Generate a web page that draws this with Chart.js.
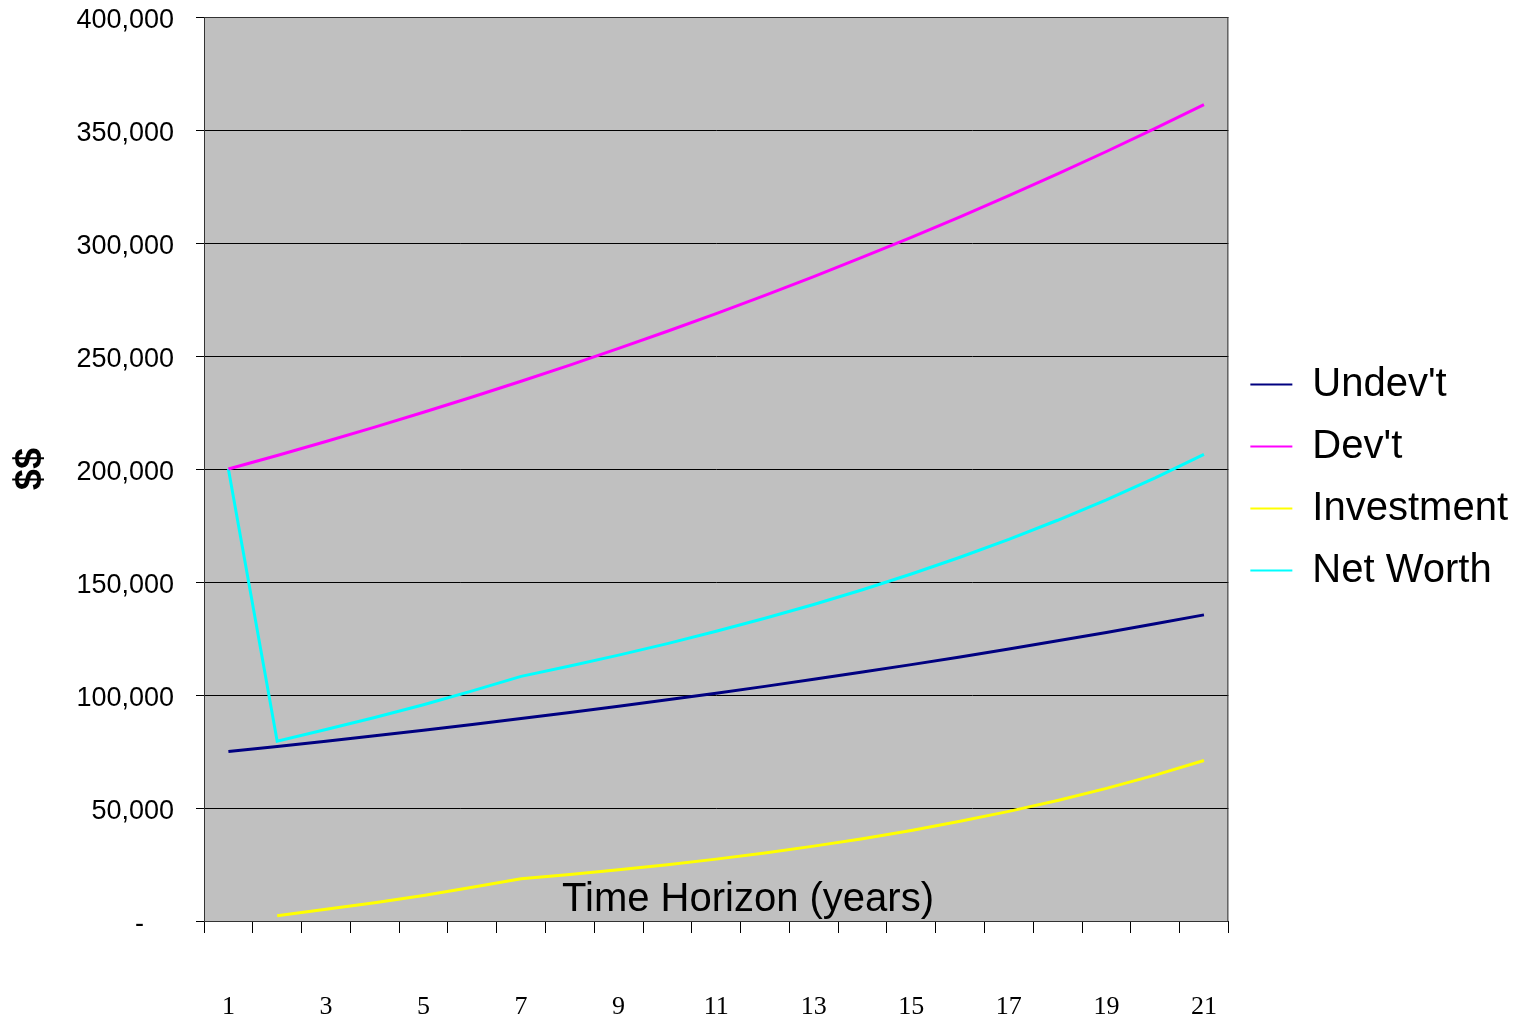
<!DOCTYPE html>
<html>
<head>
<meta charset="utf-8">
<script src="https://cdn.jsdelivr.net/npm/chart.js@4.4.1/dist/chart.umd.min.js"></script>
<style>
  html, body { margin: 0; padding: 0; background: #fff; }
  #wrap { width: 1528px; height: 1022px; }
</style>
</head>
<body>
<div id="wrap"><canvas id="chart" width="1528" height="1022"></canvas></div>
<script>
const years = ["1","2","3","4","5","6","7","8","9","10","11","12","13","14","15","16","17","18","19","20","21"];

const undevt = [75000, 77250, 79568, 81955, 84413, 86946, 89554, 92241, 95008, 97858, 100794,
  103818, 106932, 110140, 113444, 116848, 120353, 123964, 127683, 131513, 135458];

const devt = [200000, 206000, 212180, 218545, 225102, 231855, 238810, 245975, 253354, 260955, 268783,
  276847, 285152, 293707, 302518, 311593, 320941, 330570, 340487, 350701, 361222];

const investment = [null, 2300, 5200, 8100, 11300, 14900, 18700, 20570, 22627, 24890, 27379,
  30117, 33128, 36441, 40085, 44094, 48503, 53353, 58689, 64558, 71013];

const netWorth = [200000, 79550, 84768, 90055, 95713, 101846, 108254, 112811, 117635, 122748, 128173,
  133935, 140060, 146581, 153529, 160942, 168856, 177317, 186372, 196071, 206471];

const xTitle = "Time Horizon (years)";
const yTitle = "$$";

// grey plot area with a dark frame, like the old spreadsheet chart
const plotBg = {
  id: "plotBg",
  beforeDraw(chart) {
    const { ctx, chartArea: a } = chart;
    ctx.save();
    ctx.fillStyle = "#c0c0c0";
    ctx.fillRect(a.left, a.top, a.right - a.left, a.bottom - a.top);
    ctx.restore();
  },
  afterDatasetsDraw(chart) {
    const { ctx, chartArea: a } = chart;
    ctx.save();
    ctx.strokeStyle = "#333";
    ctx.lineWidth = 1;
    ctx.strokeRect(a.left + 0.5, a.top + 0.5, a.right - a.left - 1, a.bottom - a.top);
    // axis title sits inside the plot, near the bottom
    ctx.fillStyle = "#000";
    ctx.font = "40px 'Liberation Sans', Arial, sans-serif";
    ctx.textAlign = "center";
    ctx.textBaseline = "middle";
    ctx.fillText(xTitle, a.left + 544, a.bottom - 21);
    ctx.restore();
  }
};

function line(label, data, color) {
  return {
    label: label,
    data: data,
    borderColor: color,
    backgroundColor: color,
    borderWidth: 3,
    pointRadius: 0,
    tension: 0,
    fill: false,
    spanGaps: false
  };
}

const ctx = document.getElementById("chart").getContext("2d");
const chart = new Chart(ctx, {
  type: "line",
  data: {
    labels: years,
    datasets: [
      line("Undev't", undevt, "#000080"),
      line("Dev't", devt, "#ff00ff"),
      line("Investment", investment, "#ffff00"),
      line("Net Worth", netWorth, "#00ffff")
    ]
  },
  plugins: [plotBg],
  options: {
    responsive: false,
    animation: false,
    layout: { padding: { top: 17, right: 10, left: 0, bottom: 0 } },
    plugins: {
      tooltip: { enabled: false },
      legend: {
        position: "right",
        fullSize: false,
        title: { display: true, text: " ", font: { size: 10 }, padding: { top: 2, bottom: 3 } },
        labels: {
          color: "#000",
          font: { size: 40, family: "'Liberation Sans', Arial, sans-serif" },
          boxWidth: 42,
          boxHeight: 2,
          padding: 22,
          generateLabels(chart) {
            return Chart.defaults.plugins.legend.labels.generateLabels(chart).map(it => {
              it.lineWidth = 0;
              return it;
            });
          }
        }
      }
    },
    scales: {
      x: {
        offset: true,
        grid: {
          offset: true,
          drawOnChartArea: false,
          color: "#000",
          tickLength: 12,
          tickColor: "#000"
        },
        border: { color: "#000" },
        ticks: {
          autoSkip: false,
          maxRotation: 0,
          padding: 59,
          color: "#000",
          font: { size: 26, family: "'Liberation Serif', 'Times New Roman', serif" },
          callback: (v, i) => (i % 2 === 0 ? years[i] : "")
        },
        afterFit: s => { s.height = 101; }
      },
      y: {
        min: 0,
        max: 400000,
        grid: { color: "#000", tickLength: 8, tickColor: "#000" },
        border: { color: "#000" },
        ticks: {
          stepSize: 50000,
          padding: 22,
          labelOffset: 4,
          color: "#000",
          font: { size: 27, family: "'Liberation Sans', Arial, sans-serif" },
          callback: v => (v === 0 ? "-    " : v.toLocaleString("en-US"))
        },
        title: {
          display: true,
          text: yTitle,
          color: "#000",
          padding: { top: 8, bottom: 4 },
          font: { size: 38, weight: "bold", family: "'Liberation Sans', Arial, sans-serif" }
        },
        afterFit: s => {
          s.width = 204;
          s.paddingTop = 0;
          s.paddingBottom = 0;
        }
      }
    }
  }
});
</script>
</body>
</html>
